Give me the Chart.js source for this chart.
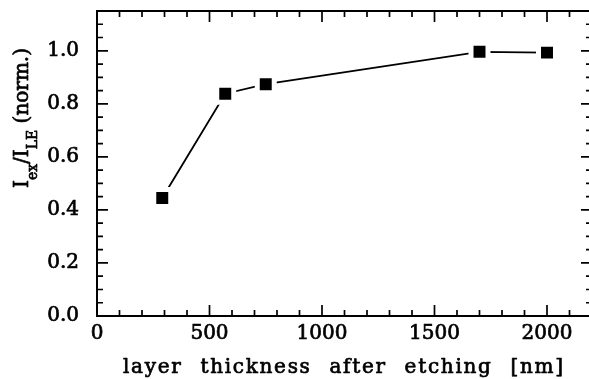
<!DOCTYPE html>
<html><head><meta charset="utf-8">
<script src="https://cdn.jsdelivr.net/npm/chart.js@4"></script>
<style>html,body{margin:0;padding:0;overflow:hidden;background:#fff}#wrap{width:594px;height:379px}</style>
</head><body><div id="wrap"><canvas id="c" width="594" height="379"></canvas></div>
<script>
const thickness = [290, 570, 750, 1700, 2000];
const intensity = [0.445, 0.838, 0.874, 0.996, 0.993];
const xTickValues = [0, 500, 1000, 1500, 2000];
const yTickValues = [0, 0.2, 0.4, 0.6, 0.8, 1.0];
const xTitle = 'layer thickness after etching [nm]';
const yTitleParts = [['I', false], ['ex', true], ['/', false], ['I', false], ['LE', true], [' (norm.)', false]];

const FONT = '"DejaVu Serif", serif';
const STROKE = 0.7;

const framePlugin = {
  id: 'frame',
  afterDraw(chart) {
    const { ctx, chartArea: a, scales: { x, y } } = chart;
    ctx.save();
    ctx.strokeStyle = '#000';
    ctx.lineWidth = 2;
    ctx.strokeRect(a.left, a.top, a.right - a.left, a.bottom - a.top);
    ctx.lineWidth = 1.7;
    ctx.beginPath();
    for (let i = 0; i * 100 <= x.max + 1e-9; i++) {
      const px = x.getPixelForValue(i * 100);
      const L = (i % 5 === 0) ? 11 : 6;
      ctx.moveTo(px, a.bottom); ctx.lineTo(px, a.bottom - L);
      ctx.moveTo(px, a.top); ctx.lineTo(px, a.top + L);
    }
    for (let i = 0; i * 0.05 <= y.max + 1e-9; i++) {
      const py = y.getPixelForValue(i * 0.05);
      const L = (i % 4 === 0) ? 11 : 6;
      ctx.moveTo(a.left, py); ctx.lineTo(a.left + L, py);
      ctx.moveTo(a.right, py); ctx.lineTo(a.right - L, py);
    }
    ctx.stroke();

    // x title
    ctx.fillStyle = '#000';
    ctx.lineWidth = STROKE;
    ctx.lineJoin = 'round';
    ctx.font = '20px ' + FONT;
    ctx.textAlign = 'left';
    ctx.textBaseline = 'alphabetic';
    const w = ctx.measureText(xTitle).width;
    const ls = 1.7;
    const ws = (440 - w - (xTitle.length - 1) * ls) / 4;
    ctx.letterSpacing = ls + 'px';
    ctx.wordSpacing = ws + 'px';
    ctx.fillText(xTitle, 123, 373);
    ctx.strokeText(xTitle, 123, 373);
    ctx.letterSpacing = '0px';
    ctx.wordSpacing = '0px';

    // y title
    ctx.translate(28, 188);
    ctx.rotate(-Math.PI / 2);
    let pos = 0;
    for (const [txt, sub] of yTitleParts) {
      ctx.font = (sub ? '14px ' : '20px ') + FONT;
      ctx.fillText(txt, pos, sub ? 9 : 0);
      ctx.strokeText(txt, pos, sub ? 9 : 0);
      pos += ctx.measureText(txt).width;
    }
    ctx.restore();
  }
};

new Chart(document.getElementById('c'), {
  type: 'line',
  data: {
    datasets: [{
      data: thickness.map((t, i) => ({ x: t, y: intensity[i] })),
      borderColor: '#000',
      borderWidth: 1.8,
      pointStyle: 'rect',
      pointRadius: 12,
      pointHoverRadius: 12,
      pointBackgroundColor: '#000',
      pointBorderColor: '#fff',
      pointBorderWidth: 5,
      tension: 0,
      fill: false
    }]
  },
  options: {
    responsive: false,
    animation: false,
    devicePixelRatio: 1,
    events: [],
    layout: { autoPadding: false, padding: { top: 11, right: 2, left: 0, bottom: 0 } },
    plugins: { legend: { display: false }, tooltip: { enabled: false } },
    scales: {
      x: {
        type: 'linear', min: 0, max: 2200,
        grid: { display: false }, border: { display: false },
        afterBuildTicks: s => { s.ticks = xTickValues.map(v => ({ value: v })); },
        afterFit: s => { s.height = 63; s.paddingLeft = 0; s.paddingRight = 0; },
        ticks: { font: { family: FONT, size: 20 }, color: '#000', textStrokeColor: '#000', textStrokeWidth: STROKE, padding: -2, maxRotation: 0, autoSkip: false, callback: v => String(v) }
      },
      y: {
        type: 'linear', min: 0, max: 1.15,
        grid: { display: false }, border: { display: false },
        afterBuildTicks: s => { s.ticks = yTickValues.map(v => ({ value: v })); },
        afterFit: s => { s.width = 97; s.paddingTop = 0; s.paddingBottom = 0; },
        ticks: { font: { family: FONT, size: 20 }, color: '#000', textStrokeColor: '#000', textStrokeWidth: STROKE, padding: 10, callback: v => v.toFixed(1) }
      }
    }
  },
  plugins: [framePlugin]
});
</script></body></html>
